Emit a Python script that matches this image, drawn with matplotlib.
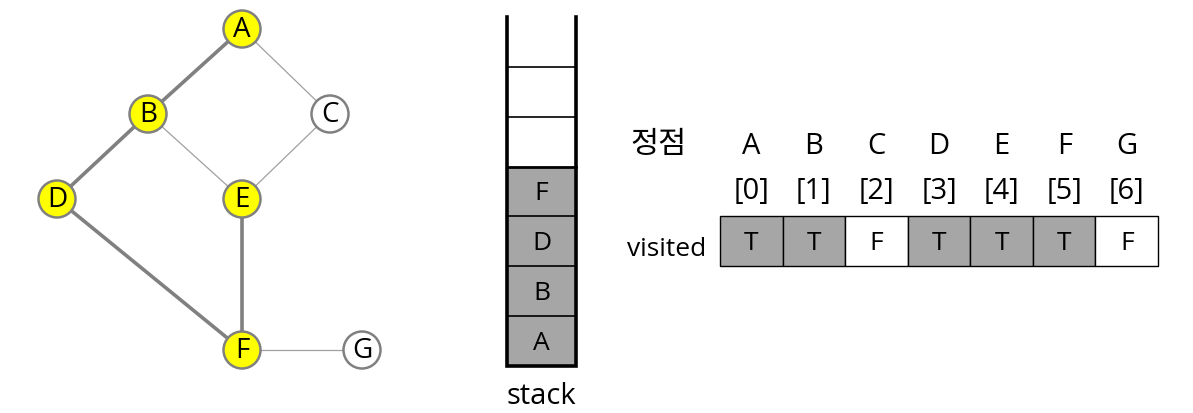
import matplotlib
matplotlib.use("Agg")
import matplotlib.pyplot as plt
from matplotlib.patches import Circle, Rectangle

plt.rcParams['font.family'] = ['Open Sans', 'Noto Sans CJK KR', 'DejaVu Sans']

# graph layout (pixel positions in the picture)
nodes = ['A', 'B', 'C', 'D', 'E', 'F', 'G']
node_x = [242, 148, 330, 57, 242, 242, 362]
node_y = [29, 114, 114, 199, 199, 350, 350]
visited = [True, True, False, True, True, True, False]
edges = [('A', 'B'), ('A', 'C'), ('B', 'D'), ('B', 'E'), ('C', 'E'),
         ('D', 'F'), ('E', 'F'), ('F', 'G')]
tree_edges = [('A', 'B'), ('B', 'D'), ('D', 'F'), ('E', 'F')]

# stack contents, bottom to top
stack_items = ['A', 'B', 'D', 'F']
stack_slots = 7

# visited table
indices = ['[0]', '[1]', '[2]', '[3]', '[4]', '[5]', '[6]']
flags = ['T', 'T', 'F', 'T', 'T', 'T', 'F']

gray = '#a6a6a6'
edge_gray = '#808080'

fig = plt.figure(figsize=(11.93, 4.13), dpi=100)
ax = fig.add_axes([0, 0, 1, 1])
ax.set_xlim(0, 1193)
ax.set_ylim(413, 0)
ax.axis('off')

pos = {n: (x, y) for n, x, y in zip(nodes, node_x, node_y)}

# edges
for a, b in edges:
    thick = (a, b) in tree_edges
    ax.plot([pos[a][0], pos[b][0]], [pos[a][1], pos[b][1]],
            color=edge_gray if thick else '#a0a0a0',
            lw=2.6 if thick else 0.9, zorder=1, solid_capstyle='butt')

# nodes
r = 18.5
for n, v in zip(nodes, visited):
    x, y = pos[n]
    ax.add_patch(Circle((x, y), r, facecolor='#ffff00' if v else 'white',
                        edgecolor=edge_gray, lw=1.8, zorder=2))
    ax.text(x, y + 1, n, ha='center', va='center', fontsize=20, zorder=3)

# stack
sx0, sx1 = 507, 576
sy_bottom, sy_top = 366, 17
cell_h = (sy_bottom - sy_top) / stack_slots
for i in range(stack_slots):
    y0 = sy_bottom - (i + 1) * cell_h
    filled = i < len(stack_items)
    ax.add_patch(Rectangle((sx0, y0), sx1 - sx0, cell_h,
                           facecolor=gray if filled else 'white',
                           edgecolor='none', zorder=1))
    if filled:
        ax.text((sx0 + sx1) / 2, y0 + cell_h / 2 + 2, stack_items[i],
                ha='center', va='center', fontsize=19, zorder=3)
    if i < stack_slots - 1:
        ax.plot([sx0, sx1], [y0, y0], color='black',
                lw=2.0 if i == len(stack_items) - 1 else 1.2, zorder=2)
ax.plot([sx0, sx0, sx1, sx1], [sy_top, sy_bottom, sy_bottom, sy_top],
        color='black', lw=2.6, zorder=4, solid_joinstyle='miter')
ax.text((sx0 + sx1) / 2, 396, 'stack', ha='center', va='center', fontsize=21)

# table
tx0, tx1 = 720, 1158
ty0, ty1 = 216, 266
cw = (tx1 - tx0) / len(nodes)
ax.text(659, 145, '정점', ha='center', va='center', fontsize=22)
ax.text(667, 250, 'visited', ha='center', va='center', fontsize=19)
for i, (n, idx, f) in enumerate(zip(nodes, indices, flags)):
    cx = tx0 + (i + 0.5) * cw
    ax.text(cx, 146, n, ha='center', va='center', fontsize=21)
    ax.text(cx, 191, idx, ha='center', va='center', fontsize=21)
    ax.add_patch(Rectangle((tx0 + i * cw, ty0), cw, ty1 - ty0,
                           facecolor=gray if f == 'T' else 'white',
                           edgecolor='black', lw=1.0))
    ax.text(cx, (ty0 + ty1) / 2 + 2, f, ha='center', va='center', fontsize=19)

fig.savefig('out.png', dpi=100)
